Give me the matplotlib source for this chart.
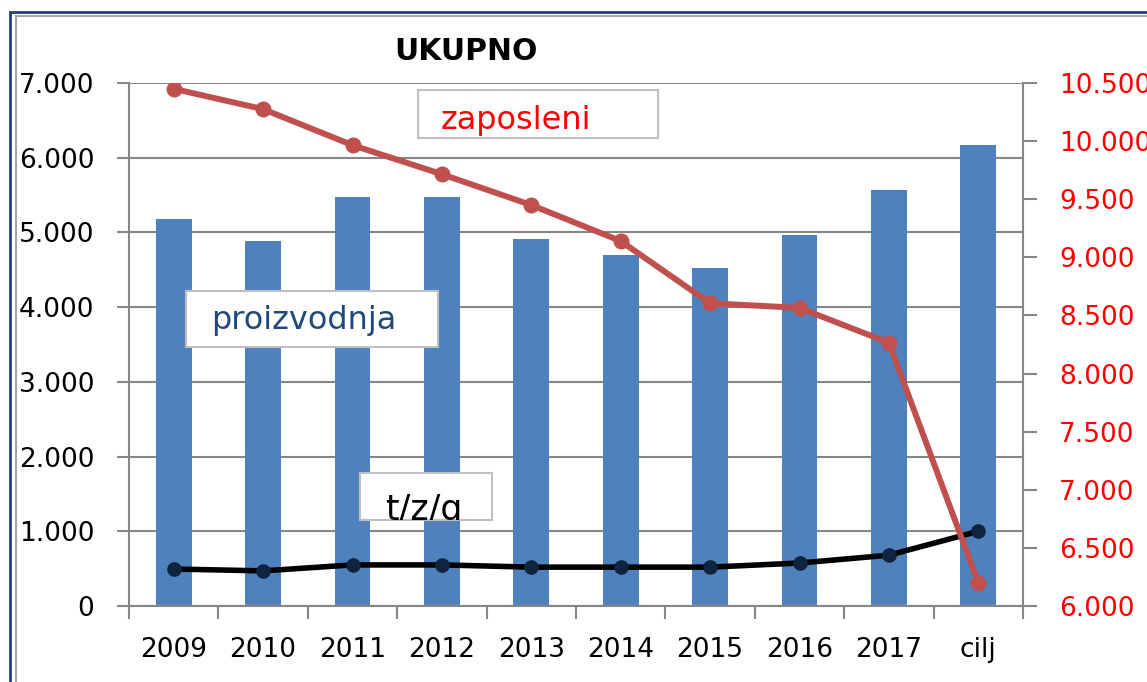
import matplotlib
matplotlib.use('Agg')
import matplotlib.pyplot as plt
from matplotlib.patches import Rectangle
from matplotlib.ticker import FuncFormatter, FixedLocator

# podaci
godine = ['2009', '2010', '2011', '2012', '2013', '2014', '2015', '2016', '2017', 'cilj']
proizvodnja = [5180, 4890, 5475, 5475, 4910, 4700, 4525, 4970, 5570, 6170]
zaposleni = [10450, 10275, 9965, 9715, 9450, 9140, 8605, 8565, 8265, 6200]
tzg = [495, 470, 550, 550, 520, 520, 520, 575, 680, 1000]

W, H = 1147, 682
fig = plt.figure(figsize=(W / 100, H / 100), dpi=100)


def px_box(x0, y0, x1, y1):
    # pikseli (od gore lijevo) -> koordinate figure
    return [x0 / W, 1 - y1 / H, (x1 - x0) / W, (y1 - y0) / H]


fmt = FuncFormatter(lambda v, p: f'{v:,.0f}'.replace(',', '.'))
grey = '#868686'

ax = fig.add_axes(px_box(129, 83, 1023, 606))
x = list(range(len(godine)))
ax.bar(x, proizvodnja, width=0.40, color='#4F81BD', zorder=2)
ax.plot(x, tzg, color='black', lw=4, marker='o', ms=9.5,
        mfc='#0F243E', mec='#0F243E', zorder=3)

ax.set_xlim(-0.5, len(godine) - 0.5)
ax.set_ylim(0, 7000)
ax.set_yticks(range(0, 7001, 1000))
ax.yaxis.set_major_formatter(fmt)
ax.yaxis.grid(True, color=grey, lw=1.5)
ax.set_axisbelow(True)
ax.set_xticks(x)
ax.set_xticklabels(godine)
ax.xaxis.set_minor_locator(FixedLocator([i - 0.5 for i in range(len(godine) + 1)]))
ax.tick_params(axis='x', which='major', length=0, pad=22, labelsize=19)
ax.tick_params(axis='x', which='minor', length=9, width=1.5, color=grey, direction='out')
ax.tick_params(axis='y', length=9, width=1.5, color=grey, pad=16, labelsize=19)
for s in ['top', 'right']:
    ax.spines[s].set_visible(False)
for s in ['left', 'bottom']:
    ax.spines[s].set_color(grey)
    ax.spines[s].set_linewidth(1.5)

ax2 = ax.twinx()
ax2.plot(x, zaposleni, color='#C0504D', lw=4.3, marker='o', ms=10.5, zorder=4)
ax2.set_ylim(6000, 10500)
ax2.set_yticks(range(6000, 10501, 500))
ax2.yaxis.set_major_formatter(fmt)
ax2.tick_params(axis='y', length=10, width=1.5, color=grey, pad=16,
                labelsize=19, labelcolor='#FF0000')
for s in ['top', 'left', 'bottom']:
    ax2.spines[s].set_visible(False)
ax2.spines['right'].set_color(grey)
ax2.spines['right'].set_linewidth(1.5)

# naslov
fig.text(466 / W, 1 - 51 / H, 'UKUPNO', ha='center', va='center',
         fontsize=21.5, fontweight='bold')

# okviri s tekstom
boxes = [
    ((418, 90, 658, 138), 'zaposleni', '#FF0000', 23, (516, 120)),
    ((186, 291, 438, 347), 'proizvodnja', '#1F497D', 23, (304, 321)),
    ((360, 473, 492, 520), 't/z/g', 'black', 25, (424, 510)),
]
for (x0, y0, x1, y1), txt, col, fs, (tx, ty) in boxes:
    r = Rectangle((x0 / W, 1 - y1 / H), (x1 - x0) / W, (y1 - y0) / H,
                  transform=fig.transFigure, facecolor='white',
                  edgecolor='#BFBFBF', lw=1.5, zorder=10)
    fig.add_artist(r)
    t = fig.text(tx / W, 1 - ty / H, txt, ha='center', va='center',
                 fontsize=fs, color=col, zorder=11)
    t.set_clip_path(r)

# vanjski okvir
fig.add_artist(Rectangle((10 / W, -0.1), 1.2, 1 - 12 / H + 0.1,
                         transform=fig.transFigure, fill=False,
                         edgecolor='#1F3F7A', lw=2))
fig.add_artist(Rectangle((16 / W, -0.1), 1.2, 1 - 16 / H + 0.1,
                         transform=fig.transFigure, fill=False,
                         edgecolor='#A6A6A6', lw=1.5))

fig.savefig('out.png', dpi=100)
